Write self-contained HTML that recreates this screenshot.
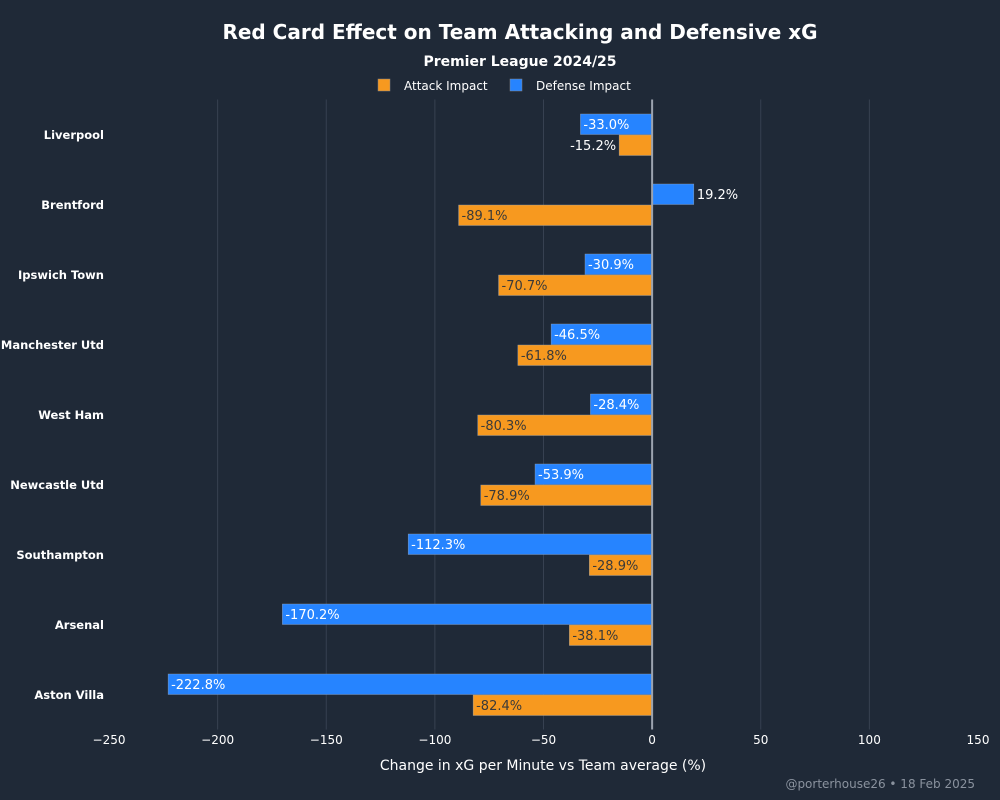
<!DOCTYPE html>
<html><head><meta charset="utf-8"><style>
html,body{margin:0;padding:0;background:#1f2937;}
svg{display:block;font-family:"DejaVu Sans","Liberation Sans",sans-serif;}
</style></head><body>
<svg id="chart" width="1000" height="800" viewBox="0 0 1000 800">
<rect width="1000" height="800" fill="#1f2937"/>
<text x="520" y="39" text-anchor="middle" fill="#fff" font-size="20" font-weight="bold">Red Card Effect on Team Attacking and Defensive xG</text>
<text x="520" y="66" text-anchor="middle" fill="#fff" font-size="14" font-weight="bold">Premier League 2024/25</text>
<g>
<rect x="378" y="79" width="12" height="12" fill="#f7991f" stroke="#888" stroke-width="0.5"/>
<text x="404" y="90" fill="#fff" font-size="12">Attack Impact</text>
<rect x="510" y="79" width="12" height="12" fill="#2684ff" stroke="#888" stroke-width="0.5"/>
<text x="536" y="90" fill="#fff" font-size="12">Defense Impact</text>
</g>
<g id="grid"></g><g id="bars"></g><g id="labels"></g>
<text x="543" y="770" text-anchor="middle" fill="#fff" font-size="14">Change in xG per Minute vs Team average (%)</text>
<text x="975" y="788" text-anchor="end" fill="#8a929e" font-size="12">@porterhouse26 • 18 Feb 2025</text>
</svg>
<script>
const teams=["Liverpool","Brentford","Ipswich Town","Manchester Utd","West Ham","Newcastle Utd","Southampton","Arsenal","Aston Villa"];
const defense=[-33.0,19.2,-30.9,-46.5,-28.4,-53.9,-112.3,-170.2,-222.8];
const attack=[-15.2,-89.1,-70.7,-61.8,-80.3,-78.9,-28.9,-38.1,-82.4];
const xTicks=[-250,-200,-150,-100,-50,0,50,100,150];
const NS="http://www.w3.org/2000/svg";
const x0=109,x1=978,xmin=-250,xmax=150,plotTop=99.5,step=70,plotBottom=729.5;
function X(v){return x0+(v-xmin)/(xmax-xmin)*(x1-x0);}
function Yc(i){return plotTop+step*(i+0.5);}
function mk(tag,attrs,parent,txt){const e=document.createElementNS(NS,tag);for(const k in attrs)e.setAttribute(k,attrs[k]);if(txt!==undefined)e.textContent=txt;parent.appendChild(e);return e;}
const grid=document.getElementById('grid'),bars=document.getElementById('bars'),labels=document.getElementById('labels');
xTicks.forEach(t=>{
  if(t!==0 && t!==xmin && t!==xmax){const l=mk('line',{x1:X(t),x2:X(t),y1:plotTop,y2:plotBottom,stroke:'#374151','stroke-width':1},grid);
  
  }
  const tx=mk('text',{x:X(t),y:744,'text-anchor':'middle',fill:'#fff','font-size':12},grid,(t<0?'\u2212'+(-t):''+t));
  
  
});
function bar(v,y,h,color,txtColor,name){
  const a=Math.min(X(0),X(v)),w=Math.abs(X(v)-X(0));
  const r=mk('rect',{x:a,y:y,width:w,height:h,fill:color,stroke:'#9aa4b1','stroke-width':0.4},bars);
  
  
  const s=v.toFixed(1)+'%';
  const tw=s.length*8+4;
  let tx,anchor,fill;
  if(w>=tw){ if(v<0){tx=X(v)+3;anchor='start';}else{tx=X(v)-3;anchor='end';} fill=txtColor;}
  else { if(v<0){tx=X(v)-3;anchor='end';}else{tx=X(v)+3;anchor='start';} fill='#fff';}
  const t=mk('text',{x:tx,y:y+h/2+4.5,'text-anchor':anchor,fill:fill,'font-size':13},labels,s);
  
  
}
teams.forEach((tm,i)=>{
  const c=Yc(i);
  const t=mk('text',{x:104,y:c+4.5,'text-anchor':'end',fill:'#fff','font-size':11.5,'font-weight':'bold'},grid,tm);
  
  
  bar(defense[i],c-20.5,20.5,'#2684ff','#fff','defense-bar');
  bar(attack[i],c+0.5,20.5,'#f7991f','#3a3a3a','attack-bar');
});
const z=mk('line',{x1:X(0),x2:X(0),y1:plotTop,y2:plotBottom,stroke:'#9ca3af','stroke-width':2},bars);


</script>
</body></html>
